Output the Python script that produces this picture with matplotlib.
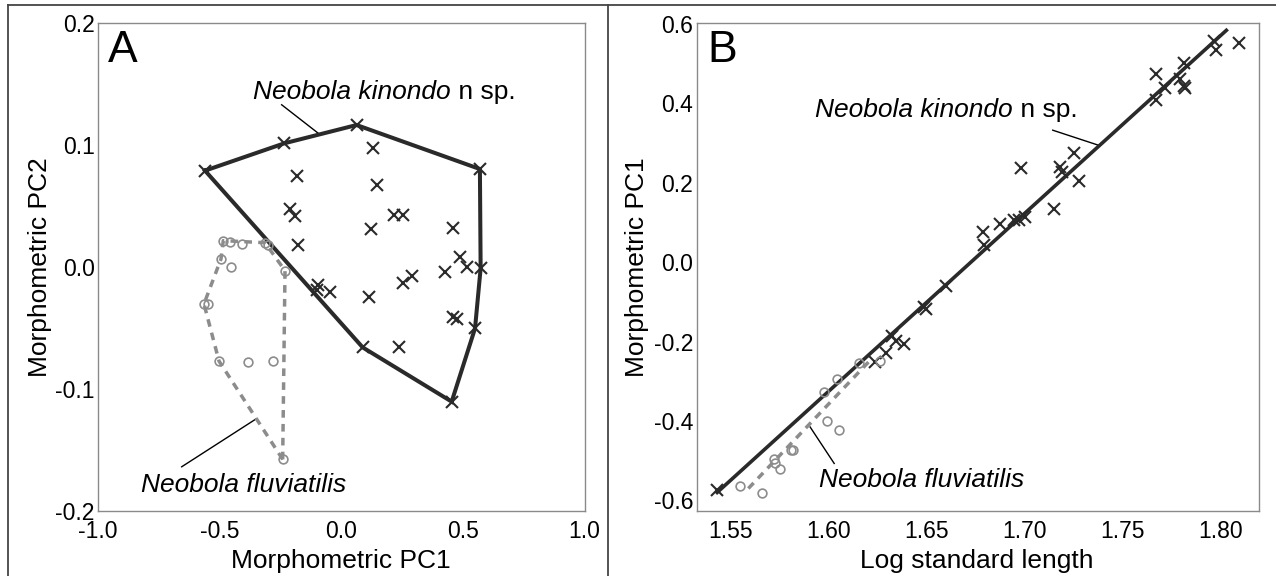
import matplotlib
matplotlib.use('Agg')
import matplotlib.pyplot as plt
from matplotlib.lines import Line2D

plt.rcParams['font.family'] = ['Liberation Sans', 'DejaVu Sans']

# ---------------- Panel A data (first entries = hull vertices, in order) ----
kin_a_pc1 = [-0.560, -0.234, 0.063, 0.570, 0.573, 0.550, 0.454, 0.088,
             -0.101, -0.094, 0.129, -0.181, 0.148, -0.211, -0.190, 0.218,
             0.255, 0.122, 0.458, -0.179, 0.488, 0.516, 0.4265, 0.292,
             0.2525, -0.046, 0.114, 0.458, 0.4745, 0.237]
kin_a_pc2 = [0.0788, 0.1012, 0.1162, 0.0801, -0.0013, -0.0505, -0.1106, -0.0661,
             -0.019, -0.015, 0.097, 0.0744, 0.067, 0.0473, 0.0419, 0.0424,
             0.0424, 0.031, 0.032, 0.0178, 0.0083, 0.0001, -0.004, -0.0076,
             -0.0136, -0.0204, -0.0245, -0.041, -0.043, -0.066]
kin_a_hull_n = 8

flu_a_pc1 = [-0.2408, -0.2312, -0.3135, -0.485, -0.4944, -0.5643, -0.5026,
             -0.457, -0.409, -0.300, -0.4546, -0.5465, -0.3847, -0.282]
flu_a_pc2 = [-0.1579, -0.0032, 0.0197, 0.0214, 0.0064, -0.0305, -0.0773,
             0.0206, 0.0184, 0.0178, 0.0001, -0.0305, -0.0778, -0.0773]
flu_a_hull_n = 7

# ---------------- Panel B data ----------------------------------------------
kin_b_logsl = [1.5434, 1.6241, 1.6297, 1.6324, 1.6345, 1.6386, 1.649, 1.650,
               1.6604, 1.679, 1.6796, 1.6878, 1.695, 1.6976, 1.7007, 1.6986,
               1.7152, 1.7183, 1.7193, 1.7255, 1.728, 1.7673, 1.7673, 1.7721,
               1.7793, 1.7814, 1.7814, 1.7823, 1.7969, 1.798, 1.8094]
kin_b_pc1 = [-0.575, -0.2516, -0.230, -0.1868, -0.199, -0.207, -0.113, -0.119,
             -0.060, 0.077, 0.044, 0.097, 0.106, 0.1066, 0.115, 0.236,
             0.133, 0.239, 0.227, 0.276, 0.205, 0.475, 0.408, 0.438,
             0.462, 0.501, 0.445, 0.440, 0.558, 0.534, 0.553]

flu_b_logsl = [1.5548, 1.5665, 1.5726, 1.573, 1.5755, 1.5811, 1.5823, 1.5993,
               1.6055, 1.5981, 1.6044, 1.6158, 1.6265]
flu_b_pc1 = [-0.564, -0.581, -0.497, -0.507, -0.522, -0.4736, -0.472, -0.3997,
             -0.423, -0.328, -0.2947, -0.255, -0.249]

kin_fit_x = [1.5434, 1.8032]
kin_fit_y = [-0.580, 0.584]
flu_fit_x = [1.5593, 1.6223]
flu_fit_y = [-0.570, -0.2427]

a_xticks = [-1.0, -0.5, 0.0, 0.5, 1.0]
a_yticks = [-0.2, -0.1, 0.0, 0.1, 0.2]
b_xticks = [1.55, 1.60, 1.65, 1.70, 1.75, 1.80]
b_yticks = [-0.6, -0.4, -0.2, 0.0, 0.2, 0.4, 0.6]

# ---------------- styling ----------------------------------------------------
W, H = 1276, 576
DARK = '#2a2a2a'
GREY = '#8c8c8c'
TICK_FS = 16.5
LAB_FS = 19
ANN_FS = 19
PANEL_FS = 32
DASH = (2.2, 1.8)

fig = plt.figure(figsize=(W / 100, H / 100), dpi=100)


def px_axes(l, r, t, b):
    return fig.add_axes([l / W, 1 - b / H, (r - l) / W, (b - t) / H])


axA = px_axes(98, 584.5, 22.8, 510.7)
axB = px_axes(696.8, 1258.7, 22.8, 510.7)

for ax in (axA, axB):
    for s in ax.spines.values():
        s.set_color('#8a8a8a')
        s.set_linewidth(1.0)
    ax.tick_params(length=0, labelsize=TICK_FS, colors='black')
    ax.tick_params(axis='x', pad=7)
    ax.tick_params(axis='y', pad=2.5)

# ---- Panel A
axA.set_xlim(-1.0, 1.0)
axA.set_ylim(-0.2, 0.2)
axA.set_xticks(a_xticks)
axA.set_xticklabels([f'{v:.1f}' for v in a_xticks])
axA.set_yticks(a_yticks)
axA.set_yticklabels([f'{v:.1f}' for v in a_yticks])

n = kin_a_hull_n
axA.plot(kin_a_pc1[:n] + kin_a_pc1[:1], kin_a_pc2[:n] + kin_a_pc2[:1],
         color=DARK, lw=2.9, solid_joinstyle='miter', zorder=2)
m = flu_a_hull_n
axA.plot(flu_a_pc1[:m] + flu_a_pc1[:1], flu_a_pc2[:m] + flu_a_pc2[:1],
         color=GREY, lw=2.5, dashes=DASH, zorder=2)
axA.plot(kin_a_pc1, kin_a_pc2, linestyle='none', marker='x', ms=8.5, mew=1.5,
         color=DARK, zorder=3)
axA.plot(flu_a_pc1, flu_a_pc2, linestyle='none', marker='o', ms=6.3, mew=1.2,
         mfc='none', mec=GREY, zorder=3)

# leader lines + labels
axA.plot([-0.245, -0.0943], [0.1328, 0.1094], color='black', lw=1.0, zorder=1)
axA.plot([-0.656, -0.3505], [-0.164, -0.1248], color='black', lw=1.0, zorder=1)


def species_label(ax, x, y, italic, rest):
    t = ax.text(x, y, italic, fontsize=ANN_FS, style='italic', ha='left',
                va='center')
    if rest:
        ax.annotate(rest, xy=(1, 0), xycoords=t, fontsize=ANN_FS, ha='left',
                    va='bottom')


species_label(axA, -0.363, 0.1433, 'Neobola kinondo', ' n sp.')
species_label(axA, -0.823, -0.179, 'Neobola fluviatilis', '')
axA.text(0.0206, 0.9197, 'A', transform=axA.transAxes, fontsize=PANEL_FS,
         ha='left', va='baseline')

# ---- Panel B
axB.set_xlim(1.533, 1.8197)
axB.set_ylim(-0.626, 0.603)
axB.set_xticks(b_xticks)
axB.set_xticklabels([f'{v:.2f}' for v in b_xticks])
axB.set_yticks(b_yticks)
axB.set_yticklabels([f'{v:.1f}' for v in b_yticks])

axB.plot(kin_fit_x, kin_fit_y, color=DARK, lw=2.6, zorder=2)
axB.plot(flu_fit_x, flu_fit_y, color=GREY, lw=2.5, dashes=DASH, zorder=2)
axB.plot(kin_b_logsl, kin_b_pc1, linestyle='none', marker='x', ms=8.5, mew=1.5,
         color=DARK, zorder=3)
axB.plot(flu_b_logsl, flu_b_pc1, linestyle='none', marker='o', ms=6.3, mew=1.2,
         mfc='none', mec=GREY, zorder=3)

axB.plot([1.7146, 1.7379], [0.3325, 0.2947], color='black', lw=1.0, zorder=1)
axB.plot([1.5908, 1.6031], [-0.415, -0.507], color='black', lw=1.0, zorder=1)
species_label(axB, 1.5935, 0.383, 'Neobola kinondo', ' n sp.')
species_label(axB, 1.5952, -0.5476, 'Neobola fluviatilis', '')
axB.text(0.018, 0.9197, 'B', transform=axB.transAxes, fontsize=PANEL_FS,
         ha='left', va='baseline')

# ---- axis titles (figure pixel placement)
fig.text(341 / W, 1 - 561 / H, 'Morphometric PC1', fontsize=LAB_FS,
         ha='center', va='center')
fig.text(977 / W, 1 - 561 / H, 'Log standard length', fontsize=LAB_FS,
         ha='center', va='center')
fig.text(40 / W, 1 - 267 / H, 'Morphometric PC2', fontsize=LAB_FS,
         ha='center', va='center', rotation=90)
fig.text(637 / W, 1 - 267 / H, 'Morphometric PC1', fontsize=LAB_FS,
         ha='center', va='center', rotation=90)

# ---- figure frame lines
for xs, ys in [((8, W), (5, 5)), ((8, 8), (5, H)), ((608, 608), (5, H))]:
    fig.add_artist(Line2D([x / W for x in xs], [1 - y / H for y in ys],
                          transform=fig.transFigure, color='#444444', lw=1.3))

fig.savefig('out.png', dpi=100)
